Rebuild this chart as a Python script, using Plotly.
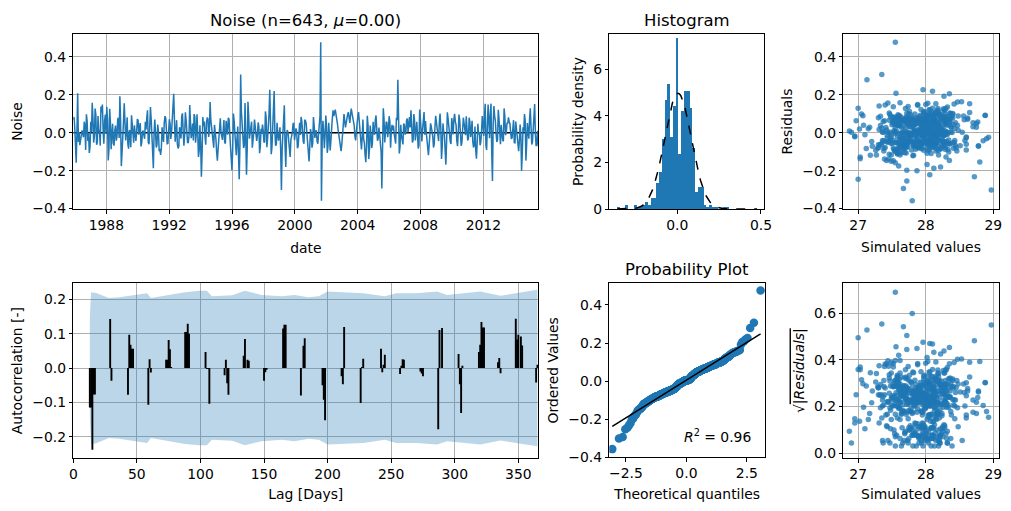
import numpy as np
import pandas as pd
import plotly.graph_objects as go
from statistics import NormalDist

# ---------------- data ----------------
START_DATE = "1985-11-24"
END_DATE = "2015-07-02"

noise = [
    0.068, 0.083, 0.027, -0.117, -0.158, 0.003, 0.208, -0.049, 0.004, -0.066, -0.034, 0.006, 0.012, -0.004, -0.024, 0.058, 0.033, -0.091, 0.097, 0.061,
    -0.043, -0.004, -0.107, -0.074, 0.057, 0.002, 0.158, 0.079, -0.052, -0.016, 0.127, 0.094, -0.063, -0.051, 0.088, 0.007, 0.009, -0.068, 0.138, 0.105,
    0.148, 0.006, -0.058, 0.062, 0.096, -0.002, 0.137, 0.071, -0.146, -0.089, 0.126, 0.053, -0.087, -0.006, 0.047, -0.056, -0.068, 0.011, 0.038, -0.042,
    -0.022, 0.071, 0.079, -0.028, 0.192, 0.064, -0.176, -0.102, 0.053, 0.059, 0.155, -0.012, -0.041, 0.004, 0.081, -0.061, -0.084, 0.009, 0.013, -0.077,
    0.092, 0.047, -0.048, -0.053, 0.039, 0.005, -0.044, -0.001, 0.072, 0.066, -0.011, 0.028, 0.051, -0.072, -0.054, 0.003, 0.011, -0.013, -0.032, 0.057,
    0.017, 0.081, 0.118, -0.049, -0.061, 0.026, 0.135, 0.073, -0.027, -0.112, -0.187, -0.006, 0.069, 0.001, -0.078, -0.063, 0.043, 0.007, -0.098, -0.085,
    -0.117, -0.081, 0.028, -0.014, -0.049, 0.052, 0.087, 0.076, -0.002, -0.058, -0.057, -0.003, 0.071, 0.048, -0.033, 0.002, 0.058, 0.104, 0.205, 0.067,
    -0.047, 0.005, 0.066, -0.061, -0.083, -0.072, 0.029, 0.007, -0.031, 0.087, 0.102, 0.008, -0.069, -0.012, 0.108, 0.069, 0.003, -0.052, -0.052, -0.017,
    0.146, 0.063, -0.029, -0.003, 0.048, -0.041, 0.098, 0.083, -0.053, -0.007, 0.097, 0.001, -0.128, -0.093, 0.039, -0.055, -0.232, -0.108, 0.082, 0.034,
    0.059, -0.019, -0.063, 0.054, 0.077, 0.074, -0.022, 0.004, 0.162, 0.066, 0.021, -0.011, -0.058, -0.079, 0.041, 0.008, -0.034, -0.104, -0.148, -0.087,
    -0.024, 0.004, 0.076, 0.002, -0.038, -0.038, 0.012, 0.067, -0.051, -0.057, 0.063, 0.006, -0.010, 0.079, 0.071, -0.005, -0.064, -0.121, -0.198, -0.089,
    0.101, 0.062, -0.023, -0.094, -0.119, -0.031, 0.032, -0.118, -0.245, -0.057, 0.307, 0.112, 0.049, 0.010, -0.081, -0.067, 0.157, -0.017, -0.221, -0.083,
    0.163, 0.089, -0.032, -0.002, 0.052, 0.058, -0.079, -0.047, 0.002, 0.069, 0.041, -0.005, -0.043, -0.013, 0.054, 0.032, -0.108, -0.073, 0.021, -0.006,
    0.043, 0.008, -0.051, -0.048, 0.112, 0.078, -0.077, -0.029, 0.031, 0.101, 0.226, 0.054, -0.113, -0.076, 0.023, 0.092, 0.219, 0.006, -0.069, -0.061,
    0.052, -0.009, -0.042, -0.006, 0.028, -0.094, -0.302, -0.084, 0.011, 0.085, 0.144, -0.071, -0.181, -0.012, 0.014, 0.001, -0.061, -0.065, -0.128, -0.038,
    -0.021, 0.001, 0.047, 0.049, -0.039, -0.015, 0.023, 0.005, -0.082, -0.071, 0.034, 0.052, -0.012, 0.083, 0.061, -0.002, -0.047, -0.058, 0.068, 0.064,
    0.049, -0.003, -0.054, -0.096, -0.151, -0.068, 0.019, -0.007, -0.079, -0.057, 0.083, 0.037, -0.028, 0.004, 0.012, -0.046, -0.058, -0.010, 0.032, 0.088,
    0.476, -0.358, -0.047, 0.063, 0.004, -0.082, -0.014, 0.091, 0.031, -0.106, -0.071, 0.052, -0.012, -0.093, -0.041, 0.067, 0.079, 0.118, 0.087, 0.104,
    0.121, 0.097, 0.078, 0.047, 0.013, -0.014, -0.052, -0.081, -0.097, -0.061, -0.022, 0.041, 0.098, 0.066, 0.028, 0.052, 0.083, 0.096, 0.108, 0.087,
    0.052, 0.094, 0.127, 0.102, 0.079, 0.057, 0.038, -0.018, -0.041, 0.006, 0.061, 0.088, 0.109, 0.064, 0.027, -0.052, -0.088, -0.024, 0.069, -0.036,
    -0.053, -0.118, -0.155, -0.064, 0.089, 0.041, -0.139, -0.086, 0.038, -0.004, -0.081, -0.058, 0.057, 0.002, -0.011, 0.067, 0.091, 0.021, -0.042, -0.031,
    0.027, -0.012, -0.048, -0.101, -0.294, -0.046, 0.129, 0.072, -0.051, 0.006, 0.058, 0.053, -0.024, 0.008, 0.087, 0.061, -0.079, 0.005, 0.041, 0.012,
    0.038, -0.006, -0.049, -0.057, 0.078, 0.066, 0.279, 0.048, -0.109, -0.073, 0.042, -0.016, -0.061, -0.062, 0.048, 0.039, -0.010, 0.001, 0.066, 0.074,
    0.001, 0.058, 0.082, 0.027, 0.118, 0.044, -0.052, -0.039, 0.098, 0.061, -0.041, 0.003, 0.057, -0.009, -0.083, -0.067, 0.122, 0.071, 0.029, -0.046,
    0.019, 0.068, 0.109, -0.011, 0.061, 0.004, -0.039, -0.082, -0.119, -0.066, -0.002, 0.049, 0.031, 0.007, -0.021, -0.078, -0.059, 0.031, 0.089, 0.054,
    0.029, -0.003, -0.044, 0.056, 0.101, 0.027, -0.138, -0.071, 0.049, 0.005, -0.012, -0.096, -0.168, -0.044, 0.107, 0.076, 0.016, -0.014, -0.048, -0.059,
    0.077, 0.047, -0.009, 0.072, 0.099, 0.058, 0.041, -0.043, -0.071, -0.004, 0.096, 0.067, 0.002, -0.069, -0.053, 0.004, 0.079, 0.051, 0.027, -0.013,
    0.087, 0.001, -0.041, -0.028, 0.079, 0.057, -0.023, 0.003, 0.063, -0.048, -0.078, -0.063, 0.032, -0.092, -0.137, -0.054, 0.047, -0.008, 0.003, -0.066,
    -0.048, 0.006, 0.088, 0.049, -0.017, 0.084, 0.152, -0.067, -0.091, 0.036, 0.149, 0.071, -0.029, 0.093, 0.153, -0.102, -0.254, 0.046, 0.141, 0.088,
    0.062, -0.005, -0.049, -0.036, 0.121, 0.074, 0.003, -0.061, 0.041, -0.015, -0.039, -0.045, 0.128, 0.086, -0.013, 0.002, 0.052, 0.048, 0.081, 0.059,
    0.048, 0.002, -0.033, -0.027, 0.022, 0.066, -0.052, -0.053, 0.059, 0.011, -0.001, -0.082, -0.097, -0.044, 0.043, -0.012, -0.201, -0.107, 0.029, 0.005,
    0.098, 0.063, -0.147, -0.058, 0.051, 0.004, -0.032, 0.071, 0.129, 0.033, -0.062, -0.047, 0.028, 0.097, 0.151, -0.007, -0.071, -0.056, 0.010, -0.073,
]

simulated = [
    27.92, 27.71, 28.05, 28.19, 27.55, 27.98, 27.56, 27.44, 28.31, 27.87, 27.48, 28.09, 27.83, 27.62, 28.14, 28.36, 27.66, 27.79, 28.02, 27.51,
    27.38, 28.03, 27.71, 27.93, 28.21, 27.47, 27.62, 28.12, 28.42, 27.85, 28.18, 27.59, 27.30, 28.27, 28.56, 27.96, 26.87, 27.68, 27.74, 28.15,
    27.88, 28.22, 28.33, 27.57, 28.05, 27.74, 27.52, 28.01, 27.42, 28.29, 28.26, 27.83, 27.85, 28.11, 27.97, 27.49, 28.44, 27.90, 27.61, 28.06,
    26.95, 27.81, 27.79, 28.17, 28.27, 27.66, 27.60, 28.34, 28.12, 27.53, 28.03, 27.95, 27.36, 28.08, 28.38, 27.72, 27.94, 28.25, 28.48, 27.89,
    28.88, 28.02, 27.45, 27.91, 27.08, 28.13, 28.22, 27.64, 27.69, 28.31, 28.07, 27.55, 28.29, 27.84, 27.58, 28.20, 27.99, 27.43, 27.77, 28.05,
    27.31, 27.97, 28.18, 27.76, 27.64, 28.24, 28.32, 27.92, 28.60, 27.58, 28.12, 28.00, 27.82, 28.39, 27.40, 27.86, 28.41, 27.69, 27.55, 28.16,
    27.27, 27.61, 28.09, 28.28, 27.90, 27.77, 27.33, 28.06, 28.21, 27.94, 27.50, 28.15, 28.36, 27.81, 27.68, 28.32, 28.03, 27.46, 28.35, 27.99,
    28.27, 27.89, 27.46, 28.10, 27.12, 27.67, 28.16, 27.54, 27.87, 28.23, 27.97, 28.04, 28.51, 27.78, 28.19, 27.63, 27.36, 28.13, 27.72, 27.95,
    27.40, 28.17, 28.24, 27.73, 27.63, 28.02, 28.09, 27.51, 27.81, 28.30, 28.40, 27.86, 27.03, 27.97, 28.31, 27.70, 28.72, 27.58, 27.53, 28.21,
    27.98, 28.11, 27.34, 27.82, 28.26, 27.60, 27.74, 28.37, 28.47, 27.93, 28.02, 27.48, 28.35, 27.88, 27.57, 28.14, 28.13, 27.69, 27.52, 28.06,
    28.06, 27.75, 27.89, 28.20, 27.47, 28.00, 28.28, 27.56, 27.70, 28.09, 27.39, 27.92, 28.17, 27.64, 28.62, 28.25, 27.93, 27.81, 27.72, 28.33,
    28.14, 27.90, 27.58, 28.04, 27.82, 27.71, 28.37, 27.62, 27.00, 28.16, 27.35, 27.98, 28.08, 27.53, 27.29, 28.26, 27.44, 27.84, 28.06, 27.67,
    28.53, 28.07, 27.65, 27.94, 28.00, 28.30, 28.45, 27.77, 27.37, 28.12, 27.84, 27.55, 28.23, 27.99, 27.60, 28.18, 28.02, 27.73, 27.15, 27.87,
    28.33, 27.83, 27.55, 28.01, 27.76, 28.24, 28.11, 27.64, 27.95, 28.40, 27.96, 27.71, 27.46, 28.09, 28.20, 27.92, 28.10, 27.57, 28.78, 28.14,
    27.51, 27.96, 28.04, 27.80, 27.71, 28.19, 28.97, 27.68, 28.25, 27.91, 27.88, 28.05, 28.22, 27.75, 27.42, 28.13, 27.86, 28.28, 28.30, 27.61,
    27.62, 28.08, 28.18, 27.73, 27.99, 28.27, 27.35, 27.90, 28.41, 27.66, 27.75, 28.02, 28.09, 27.58, 27.92, 28.21, 27.20, 27.97, 28.57, 27.82,
    28.29, 27.93, 27.84, 28.15, 27.49, 27.70, 28.07, 28.23, 27.67, 27.88, 28.12, 27.60, 27.43, 28.04, 27.96, 28.31, 28.36, 27.76, 27.78, 28.10,
    27.55, 27.80, 28.12, 27.69, 28.00, 27.38, 27.94, 28.00, 27.81, 27.58, 28.19, 28.44, 27.65, 27.26, 28.06, 27.70, 27.86, 28.27, 27.99, 28.36,
    28.05, 28.14, 28.33, 27.96, 27.90, 27.77, 27.73, 27.52, 27.38, 27.63, 28.15, 28.08, 28.20, 27.87, 27.64, 27.99, 27.48, 28.23, 28.09, 28.30,
    27.86, 28.18, 28.30, 27.72, 28.02, 27.91, 27.33, 28.11, 28.58, 27.84, 28.13, 27.62, 27.97, 28.26, 28.38, 27.93, 27.53, 28.04, 28.24, 27.78,
    28.10, 27.49, 28.80, 27.83, 27.60, 28.01, 27.45, 28.22, 28.47, 27.90, 27.91, 27.67, 28.77, 28.04, 27.10, 27.75, 28.88, 28.16, 28.85, 27.95,
    27.41, 27.98, 28.16, 27.61, 27.67, 28.07, 27.00, 27.88, 27.57, 28.20, 28.35, 27.73, 28.93, 27.85, 28.05, 28.29, 27.30, 27.92, 27.82, 28.11,
    28.13, 27.80, 27.89, 28.03, 28.40, 27.64, 27.13, 28.19, 28.08, 27.71, 27.50, 27.96, 28.60, 27.84, 28.75, 28.26, 27.76, 27.55, 27.97, 28.12,
    28.19, 27.92, 27.56, 28.06, 28.28, 27.74, 27.36, 28.14, 27.84, 27.99, 28.43, 27.68, 28.01, 28.32, 28.22, 27.81, 27.93, 28.10, 27.17, 27.88,
    27.02, 27.94, 28.15, 27.78, 27.67, 28.09, 27.98, 27.59, 27.18, 28.24, 28.32, 27.85, 28.70, 28.01, 27.49, 27.72, 28.06, 28.17, 27.07, 27.90,
    27.80, 28.03, 28.26, 27.70, 28.36, 27.95, 27.39, 28.13, 27.61, 28.21, 28.11, 27.54, 28.02, 27.83, 28.65, 28.28, 27.88, 27.97, 27.62, 28.07,
    28.62, 27.87, 27.70, 28.18, 27.05, 27.93, 28.17, 27.66, 28.78, 28.00, 27.47, 28.11, 26.90, 27.82, 28.40, 28.05, 27.30, 27.76, 28.04, 28.25,
    28.21, 27.96, 27.52, 28.08, 27.72, 27.85, 28.60, 28.19, 26.97, 27.74, 28.29, 27.91, 27.94, 27.57, 27.03, 28.02, 28.12, 27.69, 27.44, 28.14,
    27.85, 28.10, 28.48, 27.92, 26.95, 28.23, 28.65, 27.63, 28.60, 27.99, 28.00, 28.31, 28.18, 27.78, 28.15, 27.58, 27.72, 28.06, 27.31, 28.37,
    27.99, 28.20, 27.43, 27.88, 28.06, 27.75, 28.54, 28.04, 27.58, 28.13, 28.34, 27.94, 27.70, 28.27, 27.92, 27.66, 28.70, 28.09, 28.25, 27.81,
    28.11, 27.90, 27.66, 28.16, 28.43, 27.79, 28.05, 27.97, 27.37, 28.22, 27.81, 28.01, 28.46, 27.72, 27.54, 28.08, 27.87, 27.64, 28.75, 27.95,
    27.75, 28.03, 28.35, 27.86, 27.95, 28.12, 28.90, 27.70, 28.10, 27.93, 27.32, 28.17, 28.19, 28.29, 28.42, 27.82, 27.21, 28.06, 28.01, 27.61,
]

acf_lags = [13, 14, 15, 16, 17, 29, 30, 43, 44, 45, 46, 47, 59, 60, 61,
            73, 74, 75, 76, 77, 88, 89, 90, 91, 104, 105, 106, 107,
            119, 120, 121, 122, 134, 135, 137, 138, 150, 151, 152,
            165, 166, 167, 179, 181, 182, 196, 197, 198,
            211, 212, 213, 226, 227, 228, 242, 243, 244, 245,
            257, 258, 259, 260, 273, 274, 275, 287, 288, 290,
            303, 304, 305, 306, 319, 320, 321, 322, 323, 334, 335, 336,
            348, 349, 350, 352, 353, 364, 365]
acf_vals = [-0.115, -0.115, -0.238, -0.077, -0.077, 0.143, -0.037, -0.078, 0.097, 0.068, 0.056, 0.056,
            -0.107, 0.026, -0.013,
            0.024, 0.024, 0.082, 0.055, 0.003, 0.105, 0.105, 0.129, 0.100, 0.047, -0.003, -0.003, -0.104,
            -0.021, 0.024, -0.044, -0.078, 0.036, 0.085, 0.024, 0.021, -0.037, -0.012, -0.005,
            0.115, 0.126, 0.126, -0.080, 0.065, 0.087, -0.050, -0.092, -0.152,
            -0.024, -0.047, 0.120, -0.102, 0.003, 0.027, 0.056, -0.012, 0.010, 0.039,
            -0.017, 0.007, 0.026, 0.024, -0.010, -0.016, -0.024, -0.178, 0.111, 0.117,
            0.041, -0.047, -0.131, 0.007, 0.047, 0.068, 0.134, 0.118, 0.118, 0.017, 0.029, -0.015,
            0.144, 0.083, 0.097, 0.092, 0.066, -0.042, 0.010]

conf_lags = [13, 14, 18, 28, 36, 45, 58, 61, 75, 88, 99, 105, 109, 125, 135, 148, 164,
             174, 185, 193, 200, 212, 228, 245, 254, 270, 286, 294, 305, 320, 336, 349, 365]
conf_vals = [0.150, 0.221, 0.219, 0.204, 0.206, 0.211, 0.218, 0.204, 0.213, 0.221, 0.225,
             0.225, 0.209, 0.212, 0.225, 0.213, 0.209, 0.213, 0.206, 0.209, 0.223, 0.221,
             0.218, 0.209, 0.218, 0.218, 0.223, 0.213, 0.218, 0.223, 0.211, 0.218, 0.228]

# ---------------- derived ----------------
noise_arr = np.array(noise)
sim_arr = np.array(simulated)
dates = pd.date_range(START_DATE, END_DATE, periods=len(noise))
n = len(noise_arr)
mu = noise_arr.mean()
sd = noise_arr.std()

# probability plot (Filliben order statistic medians)
srt = np.sort(noise_arr)
m = (np.arange(1, n + 1) - 0.3175) / (n + 0.365)
m[-1] = 0.5 ** (1.0 / n)
m[0] = 1 - m[-1]
nd = NormalDist()
tq = np.array([nd.inv_cdf(v) for v in m])
slope, intercept = np.polyfit(tq, srt, 1)

# ACF stems as vertical segments
stem_x, stem_y = [], []
for lag, val in zip(acf_lags, acf_vals):
    stem_x += [lag, lag, None]
    stem_y += [0, val, None]

C0 = "#1f77b4"
FONT = "DejaVu Sans"
FS = 13.9
W, H = 1011, 511


def px_dom_x(a, b):
    return [a / W, b / W]


def px_dom_y(top, bottom):
    return [(H - bottom) / H, (H - top) / H]


fig = go.Figure()

# --- Noise time series
fig.add_trace(go.Scatter(x=[dates[0], dates[-1]], y=[0, 0], mode="lines",
                         line=dict(color="black", width=1.5), xaxis="x", yaxis="y",
                         showlegend=False, hoverinfo="skip"))
fig.add_trace(go.Scatter(x=dates, y=noise_arr, mode="lines", line=dict(color=C0, width=1.5),
                         xaxis="x", yaxis="y", showlegend=False))

# --- Histogram
fig.add_trace(go.Histogram(x=noise_arr, histnorm="probability density",
                           xbins=dict(start=srt[0], end=srt[-1] + 1e-9, size=(srt[-1] - srt[0]) / 50),
                           marker=dict(color=C0, line=dict(width=0)),
                           xaxis="x2", yaxis="y2", showlegend=False))
xs = np.linspace(srt[0], srt[-1], 100)
pdf = np.exp(-0.5 * ((xs - mu) / sd) ** 2) / (sd * np.sqrt(2 * np.pi))
fig.add_trace(go.Scatter(x=xs, y=pdf, mode="lines", line=dict(color="black", width=1.5, dash="dash"),
                         xaxis="x2", yaxis="y2", showlegend=False))

# --- Residuals vs simulated
fig.add_trace(go.Scatter(x=sim_arr, y=noise_arr, mode="markers",
                         marker=dict(color=C0, size=5.5, opacity=0.75, line=dict(width=0)),
                         xaxis="x3", yaxis="y3", showlegend=False))

# --- ACF
conf = np.array(conf_vals)
fig.add_trace(go.Scatter(x=conf_lags, y=conf, mode="lines", line=dict(width=0, color="rgba(0,0,0,0)"),
                         xaxis="x4", yaxis="y4", showlegend=False, hoverinfo="skip"))
fig.add_trace(go.Scatter(x=conf_lags, y=-conf, mode="lines", line=dict(width=0, color="rgba(0,0,0,0)"),
                         fill="tonexty", fillcolor="rgba(31,119,180,0.3)",
                         xaxis="x4", yaxis="y4", showlegend=False, hoverinfo="skip"))
fig.add_trace(go.Scatter(x=stem_x, y=stem_y, mode="lines", line=dict(color="black", width=1.9),
                         connectgaps=False, xaxis="x4", yaxis="y4", showlegend=False))

# --- Probability plot
fig.add_trace(go.Scatter(x=tq, y=srt, mode="markers", marker=dict(color=C0, size=8.5, line=dict(width=0)),
                         xaxis="x5", yaxis="y5", showlegend=False))
fig.add_trace(go.Scatter(x=[tq[0], tq[-1]], y=[intercept + slope * tq[0], intercept + slope * tq[-1]],
                         mode="lines", line=dict(color="black", width=1.5),
                         xaxis="x5", yaxis="y5", showlegend=False))

# --- sqrt |residuals|
fig.add_trace(go.Scatter(x=sim_arr, y=np.sqrt(np.abs(noise_arr)), mode="markers",
                         marker=dict(color=C0, size=5.5, opacity=0.75, line=dict(width=0)),
                         xaxis="x6", yaxis="y6", showlegend=False))

tickfont = dict(family=FONT, size=FS, color="black")


def ax(domain, rng, grid, title=None, standoff=6, **kw):
    d = dict(domain=domain, range=rng, showline=True, mirror=True, linecolor="black", linewidth=1,
             ticks="outside", ticklen=3.5, tickwidth=0.8, tickcolor="black", tickfont=tickfont,
             showgrid=grid, gridcolor="#b0b0b0", gridwidth=0.8, zeroline=False, automargin=False)
    if title is not None:
        d["title"] = dict(text=title, font=dict(family=FONT, size=FS, color="black"), standoff=standoff)
    d.update(kw)
    return d


top_y = px_dom_y(34, 209)
bot_y = px_dom_y(283.3, 458)

fig.update_layout(
    width=W, height=H, margin=dict(l=0, r=0, t=0, b=0, autoexpand=False),
    paper_bgcolor="white", plot_bgcolor="white", bargap=0,
    font=dict(family=FONT, size=FS, color="black"),
    xaxis=ax(px_dom_x(73.3, 538.3), [dates[0], dates[-1]], True, "date", standoff=11, anchor="y",
             type="date", tick0="1988-01-01", dtick="M48", tickformat="%Y"),
    yaxis=ax(top_y, [-0.402, 0.52], True, "Noise", anchor="x", dtick=0.2, tickformat=".1f"),
    xaxis2=ax(px_dom_x(609.3, 764), [-0.406, 0.518], False, None, anchor="y2", dtick=0.5, tickformat=".1f"),
    yaxis2=ax(top_y, [0, 7.51], False, "Probability density", anchor="x2", dtick=2),
    xaxis3=ax(px_dom_x(843.3, 998.7), [26.78, 29.08], True, "Simulated values", standoff=10,
              anchor="y3", dtick=1),
    yaxis3=ax(top_y, [-0.402, 0.52], True, "Residuals", anchor="x3", dtick=0.2, tickformat=".1f"),
    xaxis4=ax(px_dom_x(73.3, 538.3), [0, 365.7], True, "Lag [Days]", standoff=8, anchor="y4", dtick=50),
    yaxis4=ax(bot_y, [-0.262, 0.247], True, "Autocorrelation [-]", anchor="x4", dtick=0.1, tickformat=".1f"),
    xaxis5=ax(px_dom_x(609.3, 765), [-3.19, 3.25], False, "Theoretical quantiles", standoff=8, anchor="y5",
              tickvals=[-2.5, 0, 2.5], ticktext=["\u22122.5", "0.0", "2.5"]),
    yaxis5=ax(px_dom_y(283.3, 457.3), [-0.401, 0.514], False, "Ordered Values", anchor="x5",
              dtick=0.2, tickformat=".1f"),
    xaxis6=ax(px_dom_x(843.3, 998.7), [26.78, 29.08], True, "Simulated values", standoff=8,
              anchor="y6", dtick=1),
    yaxis6=ax(bot_y, [-0.02, 0.728], True,
              "\u221a<span style='text-decoration:overline'><i>|Residuals|</i></span>",
              anchor="x6", dtick=0.2, tickformat=".1f"),
)

titles = [
    ("Noise (n=643, <i>\u03bc</i>=0.00)", (73.3 + 538.3) / 2, 20),
    ("Histogram", (609.3 + 764) / 2, 20),
    ("Probability Plot", (609.3 + 765) / 2, 269),
]
for txt, cx, cy in titles:
    fig.add_annotation(text=txt, x=cx / W, y=(H - cy) / H, xref="paper", yref="paper",
                       showarrow=False, xanchor="center", yanchor="middle",
                       font=dict(family=FONT, size=16.5, color="black"))

fig.add_annotation(text="<i>R</i><sup>2</sup> = 0.96", x=753 / W, y=(H - 435.5) / H, xref="paper", yref="paper",
                   showarrow=False, xanchor="right", yanchor="middle",
                   font=dict(family=FONT, size=FS, color="black"))

fig.write_html("out.html")
